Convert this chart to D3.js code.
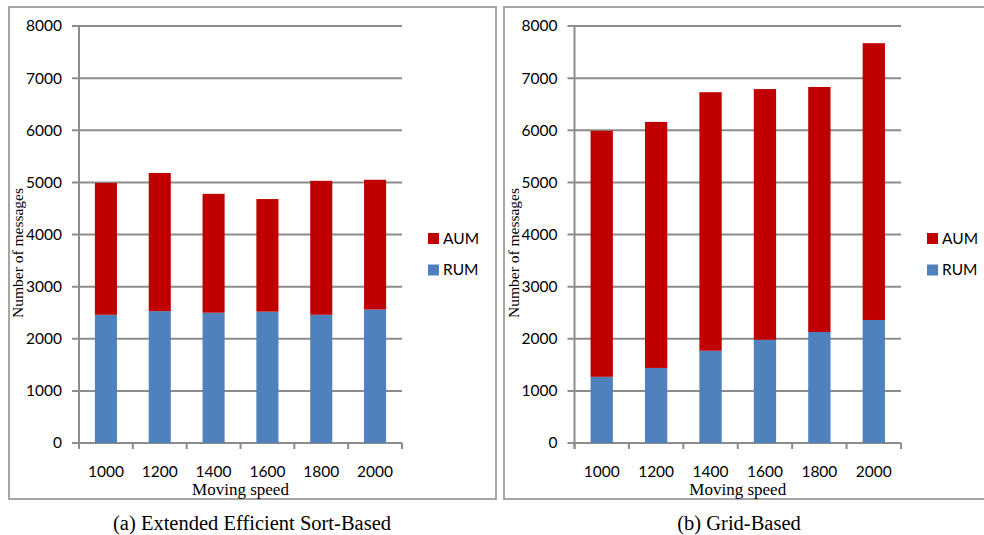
<!DOCTYPE html>
<html>
<head>
<meta charset="utf-8">
<script src="https://cdn.jsdelivr.net/npm/d3@7"></script>
<style>
  html, body { margin: 0; padding: 0; background: #fff; }
  svg { display: block; }
</style>
</head>
<body>
<svg id="chart" width="984" height="535"></svg>
<script>
// Moving speed categories and y-axis ticks
const speeds = ["1000", "1200", "1400", "1600", "1800", "2000"];
const yTicks = [0, 1000, 2000, 3000, 4000, 5000, 6000, 7000, 8000];
const seriesNames = ["AUM", "RUM"];

// Extended Efficient Sort-Based: message counts
const sortRUM = [2460, 2530, 2500, 2520, 2460, 2560];
const sortAUM = [2530, 2650, 2280, 2160, 2570, 2490];

// Grid-Based: message counts
const gridRUM = [1270, 1440, 1770, 1980, 2130, 2360];
const gridAUM = [4720, 4720, 4960, 4810, 4700, 5310];

const colors = { AUM: "#C00000", RUM: "#4F81BD" };
const gridColor = "#8c8c8c";
const frameColor = "#a6a6a6";
const sansFont = "Lato, 'Open Sans', sans-serif";
const serifFont = "'Liberation Serif', 'DejaVu Serif', serif";

const svg = d3.select("#chart");

const panels = [
  { frame: [9, 7, 487, 492], left: 79, right: 402, caption: "(a) Extended Efficient Sort-Based",
    captionX: 252, rum: sortRUM, aum: sortAUM },
  { frame: [504, 7, 500, 492], left: 574.5, right: 901, caption: "(b) Grid-Based",
    captionX: 739, rum: gridRUM, aum: gridAUM }
];

const plotTop = 26, plotBottom = 443;

panels.forEach(p => {
  const g = svg.append("g");

  // panel frame
  g.append("rect")
    .attr("x", p.frame[0]).attr("y", p.frame[1])
    .attr("width", p.frame[2]).attr("height", p.frame[3])
    .attr("fill", "none").attr("stroke", frameColor).attr("stroke-width", 2);

  const x = d3.scaleBand().domain(speeds).range([p.left, p.right])
    .paddingInner(0.59).paddingOuter(0.295);
  const y = d3.scaleLinear().domain([0, 8000]).range([plotBottom, plotTop]);

  // horizontal gridlines with left tick stubs
  g.append("g").selectAll("line").data(yTicks).join("line")
    .attr("x1", p.left - 7).attr("x2", p.right)
    .attr("y1", d => y(d)).attr("y2", d => y(d))
    .attr("stroke", gridColor).attr("stroke-width", 2);

  // y axis line
  g.append("line")
    .attr("x1", p.left).attr("x2", p.left)
    .attr("y1", plotTop).attr("y2", plotBottom + 6)
    .attr("stroke", gridColor).attr("stroke-width", 2);

  // y tick labels
  g.append("g").selectAll("text").data(yTicks).join("text")
    .attr("x", p.left - 17).attr("y", d => y(d))
    .attr("dy", "0.35em").attr("text-anchor", "end")
    .attr("font-family", sansFont).attr("font-size", 15.5).attr("fill", "#000")
    .text(d => d);

  // x tick marks at band boundaries
  const bounds = speeds.map(s => x(s) - x.step() * x.paddingInner() / 2);
  bounds.push(p.right);
  g.append("g").selectAll("line").data(bounds).join("line")
    .attr("x1", d => d).attr("x2", d => d)
    .attr("y1", plotBottom).attr("y2", plotBottom + 6)
    .attr("stroke", gridColor).attr("stroke-width", 2);

  // stacked bars
  const rows = speeds.map((s, i) => ({ speed: s, RUM: p.rum[i], AUM: p.aum[i] }));
  const stacked = d3.stack().keys(["RUM", "AUM"])(rows);
  g.append("g").selectAll("g").data(stacked).join("g")
    .attr("fill", d => colors[d.key])
    .selectAll("rect").data(d => d).join("rect")
    .attr("x", d => x(d.data.speed))
    .attr("width", x.bandwidth())
    .attr("y", d => y(d[1]))
    .attr("height", d => y(d[0]) - y(d[1]));

  // x tick labels
  g.append("g").selectAll("text").data(speeds).join("text")
    .attr("x", d => x(d) + x.bandwidth() / 2).attr("y", 477)
    .attr("text-anchor", "middle")
    .attr("font-family", sansFont).attr("font-size", 15.5).attr("fill", "#000")
    .text(d => d);

  // axis titles
  g.append("text")
    .attr("x", (p.left + p.right) / 2).attr("y", 495)
    .attr("text-anchor", "middle")
    .attr("font-family", serifFont).attr("font-size", 17).attr("fill", "#000")
    .text("Moving speed");

  g.append("text")
    .attr("transform", `translate(${p.left - 56},${253}) rotate(-90)`)
    .attr("text-anchor", "middle")
    .attr("font-family", serifFont).attr("font-size", 15.5).attr("fill", "#000")
    .text("Number of messages");

  // legend
  const lg = g.append("g").attr("transform", `translate(${p.right + 26},0)`);
  seriesNames.forEach((name, i) => {
    const yy = 233 + i * 31.5;
    lg.append("rect").attr("x", 0).attr("y", yy).attr("width", 11).attr("height", 11)
      .attr("fill", colors[name]);
    lg.append("text").attr("x", 15).attr("y", yy + 5.5).attr("dy", "0.35em")
      .attr("font-family", sansFont).attr("font-size", 15.5).attr("fill", "#000")
      .text(name);
  });

  // caption
  svg.append("text")
    .attr("x", p.captionX).attr("y", 530)
    .attr("text-anchor", "middle")
    .attr("font-family", serifFont).attr("font-size", 20.5).attr("fill", "#000")
    .text(p.caption);
});
</script>
</body>
</html>
